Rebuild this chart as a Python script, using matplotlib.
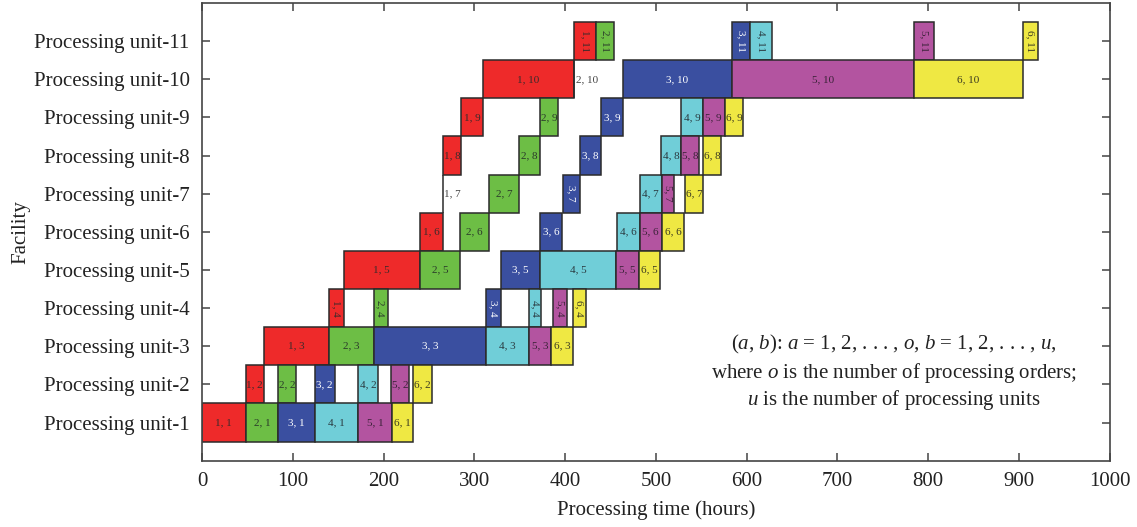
import matplotlib
matplotlib.use("Agg")
import matplotlib.pyplot as plt

plt.rcParams['font.family'] = ['Liberation Serif', 'DejaVu Serif']
plt.rcParams['mathtext.fontset'] = 'custom'
plt.rcParams['mathtext.rm'] = 'Liberation Serif'
plt.rcParams['mathtext.it'] = 'Liberation Serif:italic'

units = [f"Processing unit-{i}" for i in range(1, 12)]
xticks = [0, 100, 200, 300, 400, 500, 600, 700, 800, 900, 1000]

# (start, end) per processing unit 1..11 for each processing order
order1 = [(0, 48), (48, 68), (68, 140), (140, 156), (156, 240), (240, 265),
          (265, 265), (265, 285.5), (285.5, 309.5), (309.5, 409.5), (409.5, 434)]
order2 = [(48, 84), (84, 104), (140, 189), (189, 204.5), (240, 284.5), (284.5, 316.5),
          (316.5, 349), (349, 372), (372.5, 392.5), (409.5, 409.5), (434, 454)]
order3 = [(84, 124), (124, 146), (189, 313), (313, 329), (329, 372), (372, 397),
          (397.5, 416), (416, 440), (440, 464), (464, 583.5), (583.5, 604)]
order4 = [(124, 172), (172, 194), (313, 360.5), (360.5, 373), (372, 456.5), (457, 482),
          (482, 506.5), (506, 527.5), (528, 551.5), None, (604, 628)]
order5 = [(172, 209), (208, 228), (360.5, 385), (387, 402.5), (456.5, 481), (482, 506.5),
          (506.5, 520.5), (527.5, 548), (551.5, 576), (583.5, 784.5), (784.5, 806)]
order6 = [(209, 232), (232.5, 253), (385, 409), (409, 423), (481, 505), (506.5, 531),
          (532, 552), (552, 572), (576, 596.5), (784.5, 904.5), (904.5, 921)]

orders = [order1, order2, order3, order4, order5, order6]
colors = ['#EE2A2A', '#6DBE45', '#3A4FA0', '#70CED8', '#B354A0', '#EFE843']
text_colors = ['#3a2a2a', '#2a3a2a', 'white', '#2a3a40', '#3a2238', '#3a3a20']

fig = plt.figure(figsize=(11.37, 5.27), dpi=100)
ax = fig.add_axes([0.1777, 0.1258, 0.7983, 0.8685])

for a, (order, col, tcol) in enumerate(zip(orders, colors, text_colors), start=1):
    for b, seg in enumerate(order, start=1):
        if seg is None:
            continue
        s, e = seg
        w = e - s
        ax.barh(b, w, left=s, height=1.0, color=col, edgecolor='#2b2b2b',
                linewidth=1.1, zorder=2)
        label = f"{a}, {b}"
        if w == 0:
            ax.text(s + 2, b, label, ha='left', va='center', fontsize=8,
                    color='#444444', zorder=3)
            continue
        rot = 270 if (b in (4, 11) or w < 19) else 0
        ax.text(s + w / 2, b, label, ha='center', va='center', fontsize=8,
                color=tcol, rotation=rot, zorder=3)

ax.set_xlim(0, 1000)
ax.set_ylim(0, 12)
ax.set_xticks(xticks)
ax.set_yticks(range(1, 12))
ax.set_yticklabels(units)
ax.tick_params(axis='both', which='major', labelsize=15, direction='in',
               length=6, width=1.1, color='#444444', top=True, right=True,
               labelcolor='#222222')
ax.tick_params(axis='y', pad=9)
ax.tick_params(axis='x', pad=8)
for sp in ax.spines.values():
    sp.set_color('#444444')
    sp.set_linewidth(1.2)

ax.set_xlabel("Processing time (hours)", fontsize=15, color='#222222', labelpad=7)
ax.set_ylabel("Facility", fontsize=15, color='#222222', labelpad=2)

tx = 762
ax.text(tx, 3.06, r"($a$, $b$): $a$ = 1, 2, . . . , $o$, $b$ = 1, 2, . . . , $u$,",
        ha='center', va='center', fontsize=15, color='#222222')
ax.text(tx, 2.29, r"where $o$ is the number of processing orders;",
        ha='center', va='center', fontsize=15, color='#222222')
ax.text(tx, 1.58, r"$u$ is the number of processing units",
        ha='center', va='center', fontsize=15, color='#222222')

fig.savefig("out.png", dpi=100)
